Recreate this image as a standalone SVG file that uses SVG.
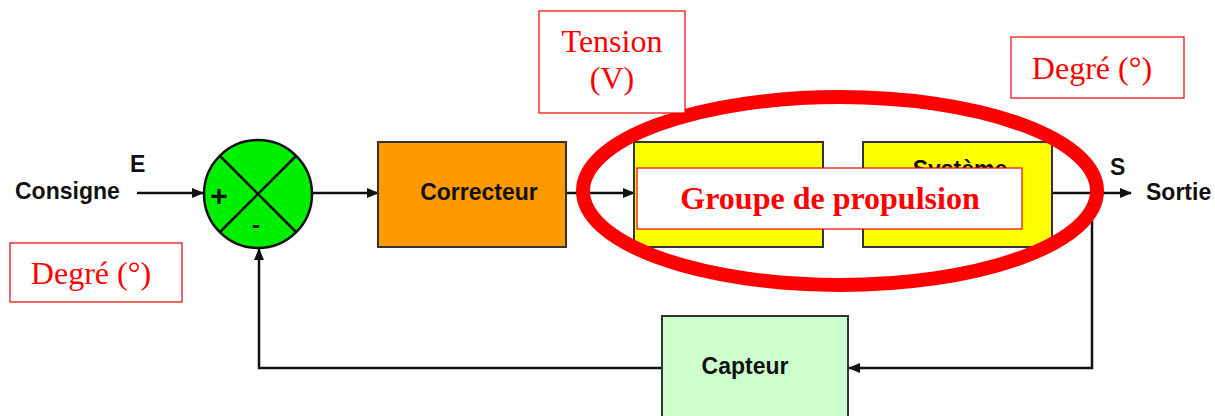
<svg xmlns="http://www.w3.org/2000/svg" width="1215" height="416" viewBox="0 0 1215 416">
<style>
.blk{stroke:#333;stroke-width:2}
.lbl{font-family:"Liberation Sans",Arial,sans-serif;font-weight:bold;font-size:23px;fill:#111}
.ln{stroke:#111;stroke-width:2.5;fill:none}
.rbox{fill:#fff;stroke:#e00;stroke-width:1.2}
.rtxt{font-family:"Liberation Serif","Times New Roman",serif;font-size:32px;fill:#f00}
</style>
<defs>
<marker id="ar" markerWidth="12" markerHeight="12" refX="11" refY="6" orient="auto" markerUnits="userSpaceOnUse">
<path d="M0,1 L12,6 L0,11 Z" fill="#111"/>
</marker>
</defs>
<rect width="1215" height="416" fill="#fff"/>
<g id="connectors">
<line class="ln" x1="137" y1="193" x2="203" y2="193" marker-end="url(#ar)"/>
<line class="ln" x1="312" y1="193" x2="378" y2="193" marker-end="url(#ar)"/>
<line class="ln" x1="566" y1="193" x2="634" y2="193" marker-end="url(#ar)"/>
<line class="ln" x1="823" y1="193" x2="863" y2="193"/>
<line class="ln" x1="1052" y1="193" x2="1131" y2="193" marker-end="url(#ar)"/>
<polyline class="ln" points="1092,193 1092,368 849,368" marker-end="url(#ar)"/>
<polyline class="ln" points="662,368 259,368 259,249" marker-end="url(#ar)"/>
</g>
<g id="consigne"><text class="lbl" x="15" y="199">Consigne</text><text class="lbl" x="130" y="172">E</text></g>
<g id="sortie"><text class="lbl" x="1110" y="175">S</text><text class="lbl" x="1146" y="200">Sortie</text></g>
<g id="sum">
<circle cx="258" cy="194" r="54" fill="#00ee00" stroke="#111" stroke-width="2.5"/>
<line class="ln" x1="220" y1="156" x2="296" y2="232"/>
<line class="ln" x1="296" y1="156" x2="220" y2="232"/>
<text x="219" y="206" font-family="Liberation Sans,Arial,sans-serif" font-weight="bold" font-size="30" fill="#111" text-anchor="middle">+</text>
<text x="256" y="233" font-family="Liberation Sans,Arial,sans-serif" font-weight="bold" font-size="24" fill="#111" text-anchor="middle">-</text>
</g>
<g id="correcteur">
<rect class="blk" x="378" y="142" width="188" height="105" fill="#ff9900"/>
<text class="lbl" x="479" y="200" text-anchor="middle">Correcteur</text>
</g>
<g id="bloc1"><rect class="blk" x="634" y="142" width="189" height="105" fill="#ffff00"/></g>
<g id="systeme">
<rect class="blk" x="863" y="142" width="189" height="105" fill="#ffff00"/>
<text class="lbl" x="960" y="177" text-anchor="middle">Système</text>
</g>
<g id="capteur">
<rect class="blk" x="662" y="316" width="186" height="110" fill="#ccffcc"/>
<text class="lbl" x="745" y="374" text-anchor="middle">Capteur</text>
</g>
<g id="groupe">
<ellipse cx="840" cy="191" rx="257" ry="94" fill="none" stroke="#ff0000" stroke-width="14"/>
<rect class="rbox" x="637" y="168" width="385" height="61"/>
<text x="830" y="209" font-family="Liberation Serif,Times New Roman,serif" font-weight="bold" font-size="32" fill="#f00" text-anchor="middle">Groupe de propulsion</text>
</g>
<g id="degre1"><rect class="rbox" x="10" y="243" width="172" height="59"/><text class="rtxt" x="91" y="284" text-anchor="middle">Degré (°)</text></g>
<g id="tension"><rect class="rbox" x="539" y="11" width="146" height="102"/><text class="rtxt" x="612" y="52" text-anchor="middle">Tension</text><text class="rtxt" x="612" y="89" text-anchor="middle">(V)</text></g>
<g id="degre2"><rect class="rbox" x="1011" y="37" width="173" height="61"/><text class="rtxt" x="1092" y="79" text-anchor="middle">Degré (°)</text></g>
</svg>
